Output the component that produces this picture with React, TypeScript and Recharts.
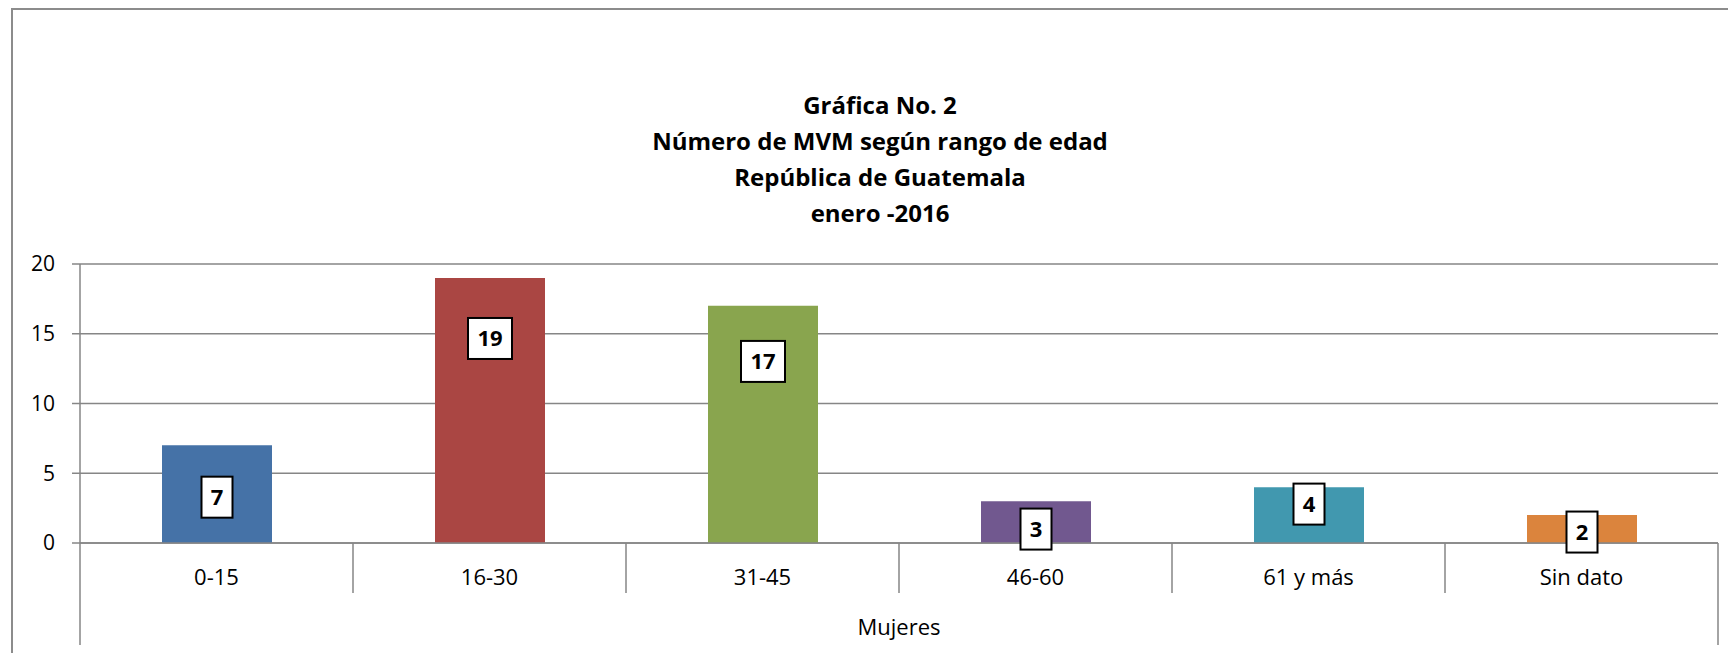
import { BarChart, Bar, XAxis, YAxis, CartesianGrid, Cell, LabelList } from 'recharts'

const categories = ['0-15', '16-30', '31-45', '46-60', '61 y más', 'Sin dato']
const mujeres = [7, 19, 17, 3, 4, 2]
const yTicks = [0, 5, 10, 15, 20]
const titleLines = ['Gráfica No. 2', 'Número de MVM según rango de edad', 'República de Guatemala', 'enero -2016']
const groupLabel = 'Mujeres'

const COLORS = ['#4572A7', '#AA4643', '#89A54E', '#71588F', '#4198AF', '#DB843D']
// the data labels were dragged by hand in the original, so nudge them off the bar centre (px)
const LABEL_NUDGE = [3, -72, -63, 7, -11, 3]

const W = 1728
const H = 653
const MARGIN = { top: 264, right: 10, left: 0, bottom: 0 }
const Y_W = 80
const X_H = 110
const PLOT_W = W - Y_W - MARGIN.right
const BAND = PLOT_W / categories.length
const GRID = '#868686'
const FONT = "'Open Sans', sans-serif"

const data = categories.map((name, i) => ({ name, value: mujeres[i] }))

// multi-level category axis: label + dividers between categories, outer ones run down past "Mujeres"
function CategoryTick(props: any) {
    const { x, y, payload, index } = props
    const left = x - BAND / 2
    const right = x + BAND / 2
    const last = index === categories.length - 1
    return (
        <g>
            <line x1={left} y1={y} x2={left} y2={y + (index === 0 ? 102 : 50)} stroke={GRID} strokeWidth={1.5} />
            {last && <line x1={right} y1={y} x2={right} y2={y + 102} stroke={GRID} strokeWidth={1.5} />}
            <text x={x} y={y + 42} textAnchor="middle" fontSize={22} fill="#000" fontFamily={FONT}>
                {payload.value}
            </text>
        </g>
    )
}

function ValueBox(props: any) {
    const { x, y, width, height, value } = props
    const idx = props.index ?? mujeres.indexOf(Number(value))
    const cx = Number(x) + Number(width) / 2
    const cy = Number(y) + Number(height) / 2 + (LABEL_NUDGE[idx] ?? 0)
    const w = String(value).length * 13 + 18
    const h = 41
    return (
        <g>
            <rect x={cx - w / 2} y={cy - h / 2} width={w} height={h} fill="#fff" stroke="#000" strokeWidth={2} />
            <text x={cx} y={cy} dy="0.36em" textAnchor="middle" fontSize={22} fontWeight="bold" fill="#000" fontFamily={FONT}>
                {value}
            </text>
        </g>
    )
}

export default function App() {
    return (
        <div style={{ position: 'fixed', left: 0, top: 0, width: W, height: H, background: '#fff', overflow: 'hidden', fontFamily: FONT }}>
            {/* chart area border, cropped on the right and bottom in the original */}
            <div style={{ position: 'absolute', left: 11, top: 8, width: 2000, height: 1000, borderLeft: '2px solid #8c8c8c', borderTop: '2px solid #8c8c8c' }} />

            <div style={{ position: 'absolute', left: 380, top: 87, width: 1000, textAlign: 'center', fontWeight: 700, fontSize: 24, lineHeight: '36px', color: '#000' }}>
                {titleLines.map(line => <div key={line}>{line}</div>)}
            </div>

            <div style={{ position: 'absolute', left: 0, top: 0 }}>
                <BarChart width={W} height={H} data={data} margin={MARGIN} style={{ fontFamily: FONT }}>
                    <CartesianGrid vertical={false} stroke={GRID} strokeWidth={1.5} />
                    <XAxis
                        dataKey="name"
                        height={X_H}
                        interval={0}
                        tickSize={0}
                        tickMargin={0}
                        tickLine={false}
                        axisLine={{ stroke: GRID, strokeWidth: 1.5 }}
                        tick={CategoryTick}
                        label={{ value: groupLabel, position: 'insideBottom', offset: 18, fontSize: 22, fill: '#000', fontFamily: FONT }}
                    />
                    <YAxis
                        width={Y_W}
                        domain={[0, 20]}
                        ticks={yTicks}
                        interval={0}
                        tickSize={8}
                        tickMargin={17}
                        axisLine={{ stroke: GRID, strokeWidth: 1.5 }}
                        tickLine={{ stroke: GRID, strokeWidth: 1.5 }}
                        tick={{ fontSize: 21, fill: '#000', fontFamily: FONT }}
                    />
                    <Bar dataKey="value" barSize={110} isAnimationActive={false}>
                        {data.map((_, i) => (
                            <Cell key={`cell-${i}`} fill={COLORS[i % COLORS.length]} />
                        ))}
                        <LabelList dataKey="value" content={ValueBox} />
                    </Bar>
                </BarChart>
            </div>
        </div>
    )
}
